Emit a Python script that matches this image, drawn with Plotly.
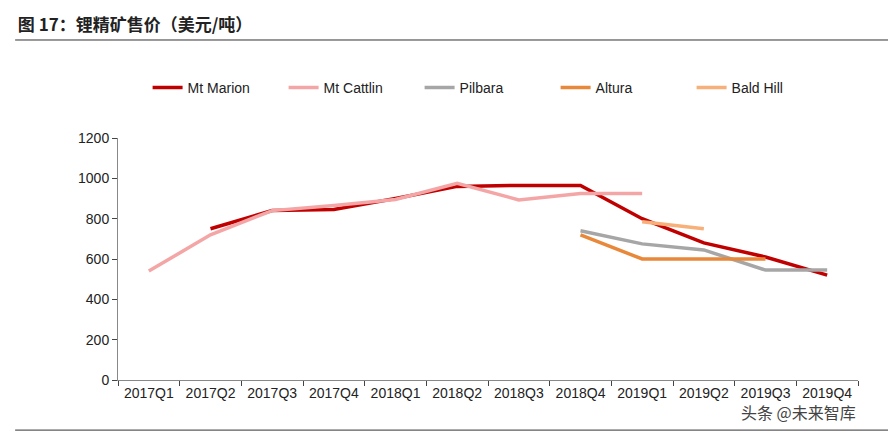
import plotly.graph_objects as go

quarters = ["2017Q1", "2017Q2", "2017Q3", "2017Q4", "2018Q1", "2018Q2",
            "2018Q3", "2018Q4", "2019Q1", "2019Q2", "2019Q3", "2019Q4"]
mt_marion = [None, 750, 840, 845, 900, 960, 965, 965, 800, 680, 610, 520]
mt_cattlin = [540, 720, 840, 865, 895, 975, 893, 925, 925, None, None, None]
pilbara = [None, None, None, None, None, None, None, 740, 675, 645, 545, 545]
altura = [None, None, None, None, None, None, None, 720, 600, 600, 600, None]
bald_hill = [None, None, None, None, None, None, None, None, 785, 750, None, None]

series = [
    ("Mt Marion", mt_marion, "#c00000"),
    ("Mt Cattlin", mt_cattlin, "#f4a6a6"),
    ("Pilbara", pilbara, "#a6a6a6"),
    ("Altura", altura, "#e8883a"),
    ("Bald Hill", bald_hill, "#f7b07a"),
]

fig = go.Figure()
for name, vals, color in series:
    fig.add_trace(go.Scatter(x=quarters, y=vals, name=name, mode="lines",
                             line=dict(color=color, width=3.5)))

fig.update_layout(
    width=896, height=436, plot_bgcolor="white", paper_bgcolor="white",
    margin=dict(l=110, r=46, t=130, b=64, autoexpand=False),
    font=dict(family="Liberation Sans, Arial", size=15, color="#222"),
    legend=dict(orientation="h", x=0.04, xanchor="left", y=1.207, yanchor="middle",
                font=dict(size=14), entrywidth=91, bgcolor="rgba(0,0,0,0)"),
    title=dict(text="<b>图 17：锂精矿售价（美元/吨）</b>", x=0.011, xanchor="left", y=0.962,
               yanchor="middle", font=dict(family="Noto Sans CJK SC", size=17, color="#222")),
    shapes=[
        dict(type="line", xref="paper", yref="paper", x0=-0.139, x1=1.043, y0=1.405, y1=1.405,
             line=dict(color="#333", width=1)),
        dict(type="line", xref="paper", yref="paper", x0=-0.139, x1=1.043, y0=-0.207, y1=-0.207,
             line=dict(color="#333", width=1)),
    ],
    annotations=[dict(text="头条 @未来智库", xref="paper", yref="paper", x=1.0, y=-0.19,
                      xanchor="right", yanchor="bottom", showarrow=False,
                      font=dict(family="Noto Sans CJK SC", size=16, color="#444"))],
)
fig.update_xaxes(type="category", tickson="boundaries", ticks="outside", ticklen=5,
                 showline=True, linecolor="#888", showgrid=False, tickfont=dict(size=14),
                 tickangle=0, range=[-0.5, 11.5])
fig.update_yaxes(range=[0, 1200], dtick=200, showline=True, linecolor="#888", ticks="outside",
                 ticklen=5, showgrid=False, zeroline=False, tickfont=dict(size=14))

fig.write_html("out.html")
